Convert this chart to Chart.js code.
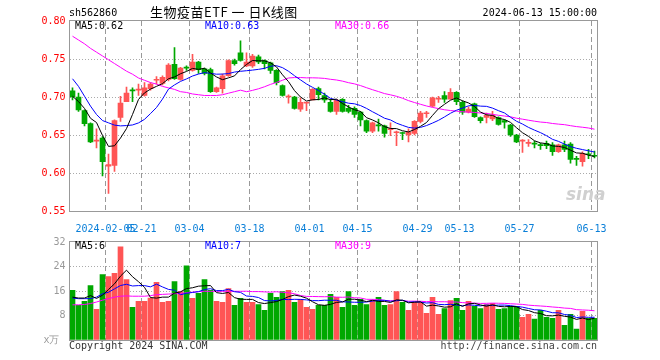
<!DOCTYPE html>
<html>
<head>
<meta charset="utf-8">
<script src="https://cdn.jsdelivr.net/npm/chart.js@4.4.1/dist/chart.umd.min.js"></script>
<style>
  body { margin: 0; width: 660px; height: 360px; background: #fff; position: relative; overflow: hidden;
         font-family: "DejaVu Sans Mono", monospace; font-size: 10px; }
  canvas { position: absolute; left: 0; }
  #kChart { top: 0; }
  #volChart { top: 232px; }
  .txt { position: absolute; line-height: 12px; white-space: pre; }
</style>
</head>
<body>
<canvas id="kChart" width="660" height="232"></canvas>
<canvas id="volChart" width="660" height="128"></canvas>

<div class="txt" style="left:69px;top:7px;">sh562860</div>
<div class="txt" style="left:150px;top:5px;font-family:'Noto Sans CJK SC';font-size:13px;line-height:14px;letter-spacing:0.5px;">生物疫苗ETF 一 日K线图</div>
<div class="txt" style="right:63px;top:7px;">2024-06-13 15:00:00</div>

<div class="txt" style="left:75px;top:20px;color:#000;">MA5:0.62</div>
<div class="txt" style="left:205px;top:20px;color:#0000ff;">MA10:0.63</div>
<div class="txt" style="left:335px;top:20px;color:#ff00ff;">MA30:0.66</div>

<div class="txt" style="left:75px;top:240px;color:#000;">MA5:6</div>
<div class="txt" style="left:205px;top:240px;color:#0000ff;">MA10:7</div>
<div class="txt" style="left:335px;top:240px;color:#ff00ff;">MA30:9</div>

<div class="txt" style="left:566px;top:184px;color:#d0d0d0;font-family:'DejaVu Sans';font-style:italic;font-weight:bold;font-size:17px;line-height:20px;">sina</div>

<div class="txt" style="left:69px;top:340px;color:#333;">Copyright 2024 SINA.COM</div>
<div class="txt" style="right:63px;top:340px;color:#444;">http://finance.sina.com.cn</div>

<script>
// trading days shown (index 0 = 2024-01-26)
var dates = ["01-26", "01-29", "01-30", "01-31", "02-01", "02-02", "02-05", "02-06", "02-07", "02-08",
  "02-19", "02-20", "02-21", "02-22", "02-23", "02-26", "02-27", "02-28", "02-29", "03-01",
  "03-04", "03-05", "03-06", "03-07", "03-08", "03-11", "03-12", "03-13", "03-14", "03-15",
  "03-18", "03-19", "03-20", "03-21", "03-22", "03-25", "03-26", "03-27", "03-28", "03-29",
  "04-01", "04-02", "04-03", "04-08", "04-09", "04-10", "04-11", "04-12", "04-15", "04-16",
  "04-17", "04-18", "04-19", "04-22", "04-23", "04-24", "04-25", "04-26", "04-29", "04-30",
  "05-06", "05-07", "05-08", "05-09", "05-10", "05-13", "05-14", "05-15", "05-16", "05-17",
  "05-20", "05-21", "05-22", "05-23", "05-24", "05-27", "05-28", "05-29", "05-30", "05-31",
  "06-03", "06-04", "06-05", "06-06", "06-07", "06-11", "06-12", "06-13"];

var openP = [0.708, 0.700, 0.682, 0.665, 0.642, 0.646, 0.609, 0.610, 0.673, 0.694,
  0.709, 0.709, 0.702, 0.711, 0.722, 0.718, 0.723, 0.743, 0.723, 0.739,
  0.735, 0.746, 0.737, 0.736, 0.707, 0.711, 0.728, 0.748, 0.758, 0.741,
  0.741, 0.753, 0.748, 0.745, 0.735, 0.715, 0.700, 0.700, 0.684, 0.692,
  0.696, 0.711, 0.702, 0.693, 0.681, 0.697, 0.685, 0.685, 0.680, 0.669,
  0.655, 0.663, 0.662, 0.657, 0.653, 0.653, 0.650, 0.652, 0.668, 0.678,
  0.688, 0.697, 0.702, 0.697, 0.706, 0.693, 0.680, 0.691, 0.673, 0.673,
  0.671, 0.673, 0.669, 0.663, 0.650, 0.642, 0.639, 0.639, 0.637, 0.639,
  0.637, 0.628, 0.637, 0.638, 0.619, 0.615, 0.625, 0.623];
var highP = [0.712, 0.705, 0.683, 0.666, 0.658, 0.648, 0.625, 0.670, 0.701, 0.713,
  0.712, 0.717, 0.719, 0.719, 0.727, 0.728, 0.744, 0.765, 0.739, 0.741,
  0.756, 0.747, 0.738, 0.738, 0.713, 0.730, 0.749, 0.750, 0.774, 0.758,
  0.756, 0.755, 0.749, 0.746, 0.736, 0.716, 0.703, 0.701, 0.699, 0.693,
  0.711, 0.713, 0.705, 0.697, 0.697, 0.698, 0.689, 0.687, 0.681, 0.670,
  0.667, 0.671, 0.663, 0.666, 0.655, 0.654, 0.658, 0.669, 0.681, 0.681,
  0.700, 0.701, 0.707, 0.711, 0.707, 0.695, 0.687, 0.692, 0.674, 0.679,
  0.681, 0.674, 0.670, 0.664, 0.651, 0.644, 0.644, 0.642, 0.639, 0.642,
  0.640, 0.638, 0.642, 0.640, 0.622, 0.628, 0.631, 0.629];
var lowP = [0.696, 0.681, 0.662, 0.640, 0.633, 0.596, 0.573, 0.602, 0.668, 0.694,
  0.694, 0.702, 0.701, 0.709, 0.717, 0.716, 0.721, 0.723, 0.722, 0.735,
  0.734, 0.731, 0.729, 0.706, 0.706, 0.705, 0.727, 0.742, 0.747, 0.740,
  0.739, 0.744, 0.737, 0.731, 0.716, 0.701, 0.692, 0.684, 0.681, 0.682,
  0.696, 0.696, 0.693, 0.680, 0.677, 0.680, 0.679, 0.673, 0.662, 0.653,
  0.653, 0.655, 0.647, 0.649, 0.636, 0.644, 0.641, 0.650, 0.666, 0.673,
  0.687, 0.693, 0.693, 0.697, 0.690, 0.677, 0.679, 0.673, 0.666, 0.666,
  0.669, 0.663, 0.659, 0.648, 0.640, 0.627, 0.635, 0.633, 0.631, 0.632,
  0.623, 0.627, 0.628, 0.613, 0.610, 0.609, 0.619, 0.620];
var closeP = [0.700, 0.683, 0.665, 0.641, 0.643, 0.615, 0.611, 0.669, 0.692, 0.705,
  0.708, 0.710, 0.712, 0.717, 0.723, 0.726, 0.742, 0.724, 0.738, 0.738,
  0.746, 0.736, 0.731, 0.707, 0.712, 0.728, 0.748, 0.744, 0.748, 0.746,
  0.754, 0.746, 0.744, 0.735, 0.719, 0.702, 0.701, 0.685, 0.693, 0.6925,
  0.710, 0.703, 0.696, 0.681, 0.696, 0.681, 0.681, 0.677, 0.670, 0.655,
  0.666, 0.662, 0.652, 0.658, 0.654, 0.652, 0.654, 0.668, 0.679, 0.679,
  0.699, 0.698, 0.697, 0.706, 0.694, 0.680, 0.684, 0.674, 0.669, 0.676,
  0.676, 0.664, 0.667, 0.650, 0.641, 0.643, 0.640, 0.638, 0.636, 0.636,
  0.628, 0.637, 0.631, 0.618, 0.618, 0.626, 0.624, 0.622];

// volume, 万
var volume = [16.2, 11.3, 12.6, 17.8, 10.0, 21.4, 20.7, 21.8, 30.4, 19.7,
  10.7, 12.6, 12.6, 13.7, 18.8, 12.3, 12.6, 19.1, 15.8, 24.2,
  13.6, 15.2, 19.7, 16.2, 12.6, 12.3, 16.8, 11.3, 13.6, 12.3,
  12.3, 11.6, 9.7, 15.2, 13.9, 15.8, 16.2, 12.3, 13.3, 10.7,
  10.0, 11.3, 11.3, 14.9, 13.9, 10.7, 15.8, 11.3, 13.3, 11.6,
  12.9, 13.9, 11.3, 11.6, 15.8, 12.3, 9.7, 12.3, 12.3, 8.7,
  13.9, 8.4, 10.3, 12.9, 13.6, 9.7, 12.6, 11.0, 10.3, 11.6,
  12.0, 10.0, 10.3, 11.0, 11.0, 7.4, 8.4, 6.8, 9.7, 7.4,
  7.1, 9.7, 4.8, 8.4, 3.6, 9.4, 7.1, 7.1];

// moving-average values before enough history is visible
var ma5Head = [0.701, 0.694, 0.685, 0.672];
var ma10Head = [0.724, 0.714, 0.701, 0.688, 0.677, 0.669, 0.666, 0.663, 0.662];
var ma30Head = [0.780, 0.775, 0.770, 0.764, 0.759, 0.754, 0.749, 0.744, 0.739, 0.734,
  0.730, 0.725, 0.722, 0.719, 0.717, 0.714, 0.712, 0.710, 0.707, 0.706,
  0.704, 0.703, 0.702, 0.702, 0.702, 0.703, 0.705, 0.707, 0.709];
var volMa5Head = [14.0, 13.7, 13.7, 14.5];
var volMa10Head = [13.7, 13.5, 13.5, 13.5, 14.0, 15.1, 15.6, 16.7, 17.8];
var volMa30Head = [11.5, 11.5, 11.6, 11.9, 12.4, 13.0, 13.5, 14.0, 14.3, 14.4,
  14.3, 14.3, 14.3, 14.5, 14.8, 14.9, 15.0, 15.1, 15.2, 15.4,
  15.6, 15.8, 15.9, 15.9, 15.9, 15.9, 15.9, 15.9, 15.9];

var xTickDates = ["02-05", "02-21", "03-04", "03-18", "04-01", "04-15", "04-29", "05-13", "05-27", "06-13"];

var UP = "#ff5555", DOWN = "#00a800";
var MONO = { family: "DejaVu Sans Mono", size: 10 };

function movingAvg(values, n, head) {
  return values.map(function (v, i) {
    if (i < head.length) return head[i];
    var sum = 0;
    for (var j = i - n + 1; j <= i; j++) sum += values[j];
    return sum / n;
  });
}

function points(values) {
  return values.map(function (v, i) { return { x: i, y: v }; });
}

var candleColors = closeP.map(function (c, i) { return c >= openP[i] ? UP : DOWN; });
var xTickIdx = xTickDates.map(function (d) { return dates.indexOf(d); });

function maLine(values, color) {
  return { type: "line", data: points(values), borderColor: color, borderWidth: 1, pointRadius: 0, tension: 0, order: 0 };
}

// x axis: one unit per trading day, ticks on the left edge of the labelled days
function xScale(showLabels, height) {
  return {
    type: "linear",
    min: -0.5,
    max: dates.length - 0.5,
    offset: false,
    grid: { display: false },
    afterBuildTicks: function (s) {
      s.ticks = xTickIdx.map(function (k) { return { value: k - 0.5 }; });
    },
    ticks: {
      display: showLabels, autoSkip: false, maxRotation: 0, minRotation: 0, padding: 4,
      color: "#0a7fd8", font: MONO,
      callback: function (v) {
        var d = dates[Math.round(v + 0.5)];
        return d === "02-05" ? "2024-" + d : d;
      }
    },
    afterFit: function (s) { s.height = height; }
  };
}

// dashed date lines (drawn as short filled dashes) and the gray box round the plot area
var frame = {
  id: "frame",
  beforeDatasetsDraw: function (chart) {
    var a = chart.chartArea, c = chart.ctx, sx = chart.scales.x;
    c.save();
    c.fillStyle = "#999999";
    for (var i = 0; i < xTickIdx.length; i++) {
      var x = Math.floor(sx.getPixelForValue(xTickIdx[i] - 0.5));
      for (var y = Math.round(a.top); y < a.bottom; y += 8) {
        c.fillRect(x, y, 1, Math.min(5, a.bottom - y));
      }
    }
    c.restore();
  },
  afterDraw: function (chart) {
    var a = chart.chartArea, c = chart.ctx;
    c.save();
    c.strokeStyle = "#999999";
    c.lineWidth = 1;
    c.strokeRect(a.left, a.top - 0.5, a.right - a.left, a.bottom - a.top + 1);
    c.restore();
  }
};

var kCtx = document.getElementById("kChart");
if (kCtx) {
  var kChart = new Chart(kCtx, {
    type: "bar",
    data: {
      datasets: [
        maLine(movingAvg(closeP, 5, ma5Head), "#000000"),
        maLine(movingAvg(closeP, 10, ma10Head), "#0000ff"),
        maLine(movingAvg(closeP, 30, ma30Head), "#ff00ff"),
        {
          data: dates.map(function (d, i) { return { x: i, y: [openP[i], closeP[i]] }; }),
          backgroundColor: candleColors,
          barThickness: 5,
          minBarLength: 1,
          grouped: false,
          order: 1
        },
        {
          data: dates.map(function (d, i) { return { x: i, y: [lowP[i], highP[i]] }; }),
          backgroundColor: candleColors,
          barThickness: 1,
          grouped: false,
          order: 2
        }
      ]
    },
    options: {
      responsive: false,
      animation: false,
      layout: { padding: { top: 21, right: 62.5, left: 0, bottom: 0 } },
      plugins: { legend: { display: false }, tooltip: { enabled: false } },
      scales: {
        x: xScale(true, 21),
        y: {
          min: 0.55, max: 0.80,
          grid: {
            drawTicks: false,
            color: function (ctx) { return ctx.index === 0 || ctx.index === 5 ? "rgba(0,0,0,0)" : "#aaaaaa"; }
          },
          border: { display: false, dash: [1, 2] },
          ticks: {
            stepSize: 0.05, padding: 4, color: "#ff0000", font: MONO,
            callback: function (v) { return v.toFixed(2); }
          },
          afterFit: function (s) { s.width = 69.5; }
        }
      }
    },
    plugins: [frame]
  });
}

var vCtx = document.getElementById("volChart");
if (vCtx) {
  var volChart = new Chart(vCtx, {
    type: "bar",
    data: {
      datasets: [
        maLine(movingAvg(volume, 5, volMa5Head), "#000000"),
        maLine(movingAvg(volume, 10, volMa10Head), "#0000ff"),
        maLine(movingAvg(volume, 30, volMa30Head), "#ff00ff"),
        {
          data: points(volume),
          backgroundColor: candleColors,
          barThickness: 5,
          grouped: false,
          order: 1
        }
      ]
    },
    options: {
      responsive: false,
      animation: false,
      layout: { padding: { top: 9, right: 62.5, left: 0, bottom: 0 } },
      plugins: { legend: { display: false }, tooltip: { enabled: false } },
      scales: {
        x: xScale(false, 20),
        y: {
          min: 0, max: 32,
          grid: {
            drawTicks: false,
            color: function (ctx) { return ctx.index === 0 || ctx.index === 4 ? "rgba(0,0,0,0)" : "#aaaaaa"; }
          },
          border: { display: false, dash: [1, 2] },
          ticks: {
            stepSize: 8, padding: 4, color: "#999999", font: MONO,
            callback: function (v) { return v === 0 ? "x万 " : v; }
          },
          afterFit: function (s) { s.width = 69.5; }
        }
      }
    },
    plugins: [frame]
  });
}
</script>
</body>
</html>
